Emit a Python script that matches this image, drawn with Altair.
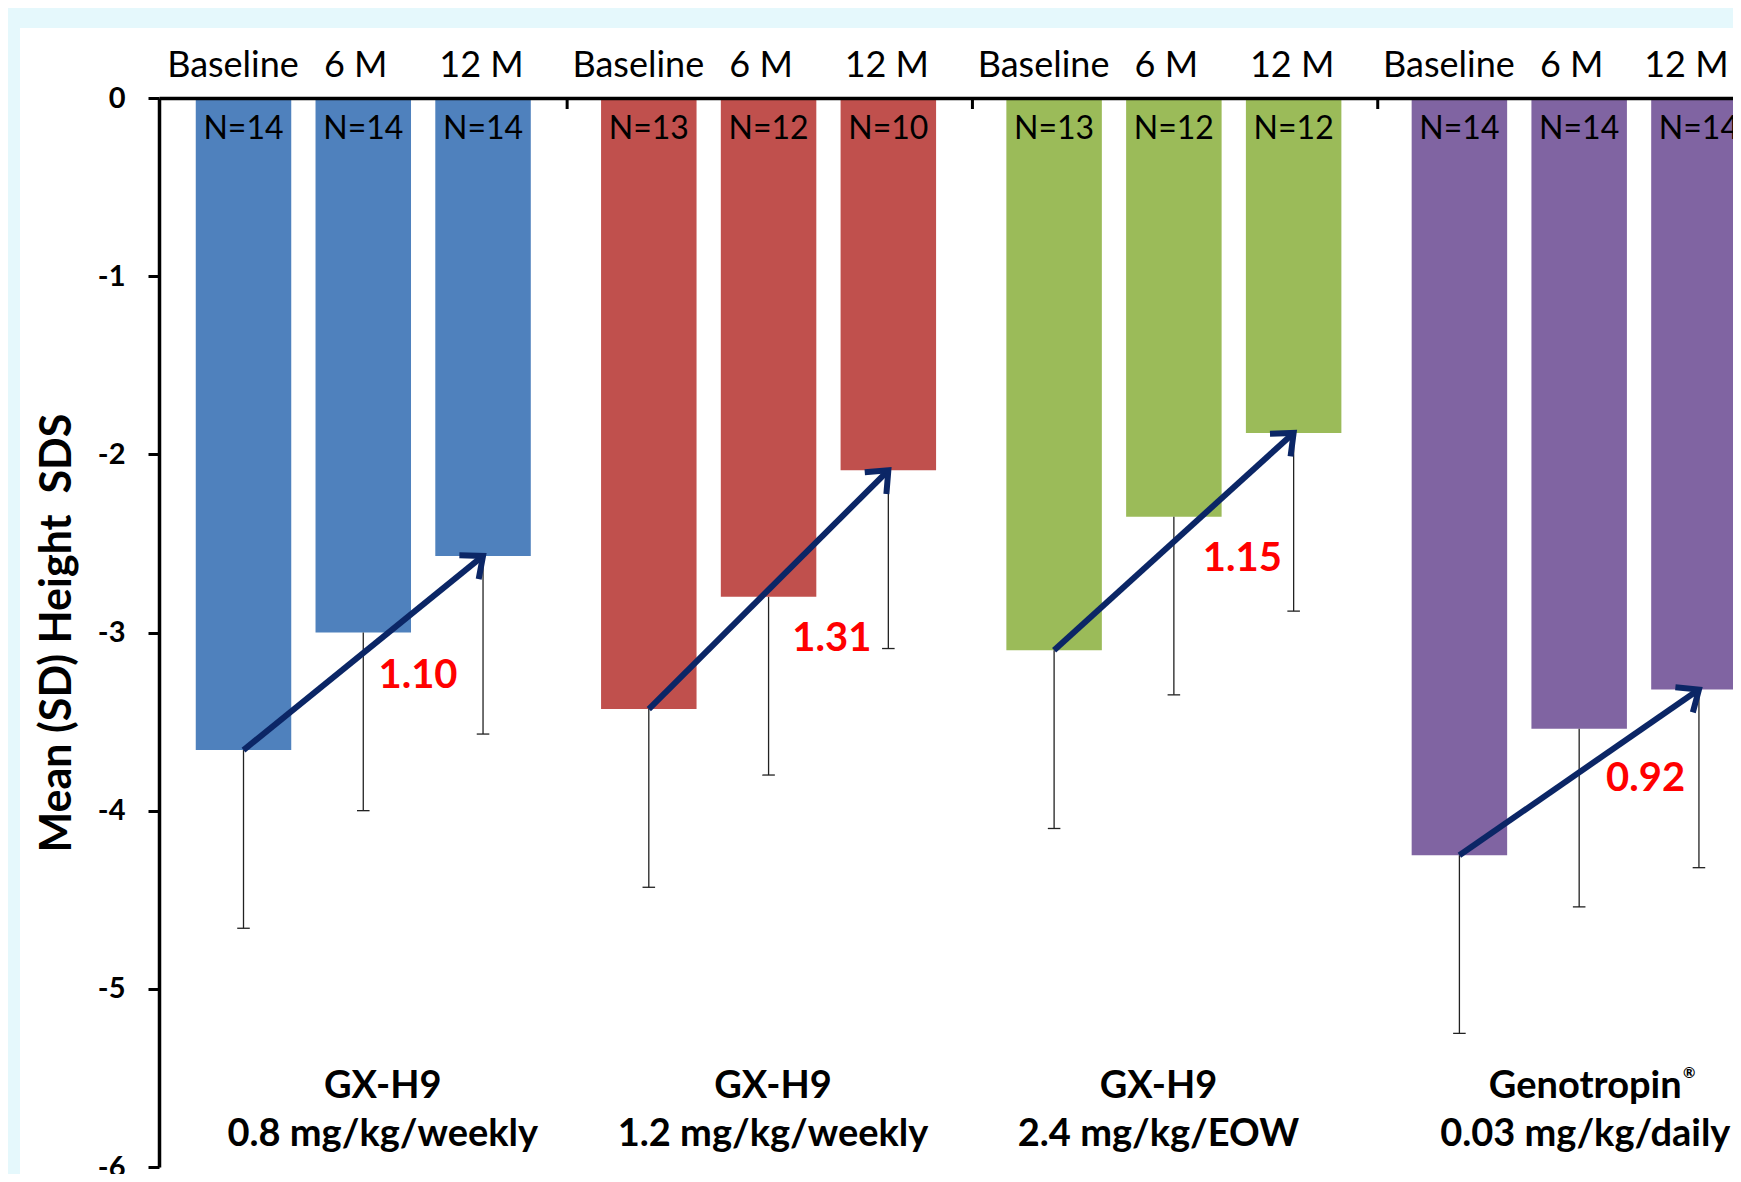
import math
import altair as alt
import pandas as pd

# ---------------- data ----------------
time_points = ["Baseline", "6 M", "12 M"]
group_line1 = ["GX-H9", "GX-H9", "GX-H9", "Genotropin"]
group_line2 = ["0.8 mg/kg/weekly", "1.2 mg/kg/weekly", "2.4 mg/kg/EOW", "0.03 mg/kg/daily"]

mean_g1 = [-3.66, -3.00, -2.57]
mean_g2 = [-3.43, -2.80, -2.09]
mean_g3 = [-3.10, -2.35, -1.88]
mean_g4 = [-4.25, -3.54, -3.32]

sd_g1 = [1.00, 1.00, 1.00]
sd_g2 = [1.00, 1.00, 1.00]
sd_g3 = [1.00, 1.00, 1.00]
sd_g4 = [1.00, 1.00, 1.00]

n_g1 = [14, 14, 14]
n_g2 = [13, 12, 10]
n_g3 = [13, 12, 12]
n_g4 = [14, 14, 14]

gain_text = ["1.10", "1.31", "1.15", "0.92"]
gain_x = [0.632, 1.653, 2.666, 3.661]      # annotation anchor (group units)
gain_y = [-3.245, -3.035, -2.585, -3.825]  # annotation anchor (SDS units)

group_label_x = [0.545, 1.508, 2.459, 3.512]  # annotation anchor (group units)
label_line1_y = -5.55
label_line2_y = -5.82

group_colors = ["#4F81BD", "#C0504D", "#9BBB59", "#8064A2"]

# ---------------- layout / style ----------------
PLOT_W = 1574
PLOT_H = 1069
GROUP_PX = 405.3
X_MIN = -0.007
X_MAX = X_MIN + PLOT_W / GROUP_PX
Y_PX = PLOT_H / 6.0
BAR_STEP = 0.2955
BAR_HALF = 0.1178
CAP_HALF = 0.0155
ARROW = "#0B2666"
BG = "#E5F8FC"
FONT = "Lato"

means = [mean_g1, mean_g2, mean_g3, mean_g4]
sds = [sd_g1, sd_g2, sd_g3, sd_g4]
ns = [n_g1, n_g2, n_g3, n_g4]
group_ids = [f"{a} {b}" for a, b in zip(group_line1, group_line2)]

rows = []
for g in range(4):
    for b, tp in enumerate(time_points):
        xc = g + 0.497 + (b - 1) * BAR_STEP
        m = means[g][b]
        s = sds[g][b]
        rows.append(dict(group=group_ids[g], time=tp, xc=xc,
                         x0=xc - BAR_HALF, x1=xc + BAR_HALF,
                         c0=xc - CAP_HALF, c1=xc + CAP_HALF,
                         mean=m, low=m - s, zero=0.0,
                         nlab=f"N={ns[g][b]}"))
df = pd.DataFrame(rows)

arrow_df = df[df["time"].isin(["Baseline", "12 M"])].copy()

head_rows = []
for g in range(4):
    s = df[(df.group == group_ids[g]) & (df.time == "Baseline")].iloc[0]
    e = df[(df.group == group_ids[g]) & (df.time == "12 M")].iloc[0]
    dx = (e.xc - s.xc) * GROUP_PX
    dy = (e["mean"] - s["mean"]) * Y_PX
    ang = (360 - math.degrees(math.atan2(dy, dx))) % 360
    head_rows.append(dict(xc=e.xc, mean=e["mean"], angle=ang))
head_df = pd.DataFrame(head_rows)

gain_df = pd.DataFrame(dict(x=gain_x, y=gain_y, t=gain_text))
lab_df = pd.DataFrame(dict(x=group_label_x,
                           l1=group_line1, l2=group_line2,
                           y1=[label_line1_y] * 4, y2=[label_line2_y] * 4))
reg_df = pd.DataFrame(dict(x=[group_label_x[3]], y=[label_line1_y], t=["®"]))
bound_df = pd.DataFrame(dict(b=[float(i) for i in range(1, 4)]))
panel_df = pd.DataFrame(dict(k=[0]))

centers = [r["xc"] for r in rows]
labels_js = "[" + ",".join(f"'{t}'" for t in time_points) + "]"
idx_expr = f"round((datum.value - floor(datum.value) - 0.2015) / {BAR_STEP})"
x_label_expr = f"{labels_js}[{idx_expr}]"

x_scale = alt.Scale(domain=[X_MIN, X_MAX], nice=False, zero=False)
y_scale = alt.Scale(domain=[-6, 0], nice=False)

x_axis = alt.Axis(orient="top", values=centers, labelExpr=x_label_expr,
                  labelFont=FONT, labelFontSize=36, labelColor="black",
                  labelPadding=22, labelBaseline="alphabetic",
                  labelOffset={"condition": [{"test": f"{idx_expr} == 0", "value": -11},
                                             {"test": f"{idx_expr} == 1", "value": -8},
                                             {"test": "datum.value > 3.7", "value": -13}],
                               "value": -2},
                  ticks=False, tickSize=0, domainColor="black", domainWidth=3.5,
                  grid=False, title=None, labelFlush=False, labelOverlap=False,
                  zindex=1)
y_axis = alt.Axis(values=[0, -1, -2, -3, -4, -5, -6],
                  labelExpr="datum.value == 0 ? '0' : '-' + abs(datum.value)",
                  labelFont=FONT, labelFontWeight="bold", labelFontSize=29,
                  labelColor="black", labelPadding=23,
                  tickSize=11, tickWidth=3, tickColor="black",
                  domainColor="black", domainWidth=3.5, grid=False,
                  title="Mean (SD) Height\u00a0 SDS", titleFont=FONT,
                  titleFontSize=43, titleFontWeight="bold", titleColor="black",
                  titleAngle=270, titleX=-89, titleY=PLOT_H / 2,
                  titleAlign="center", titleBaseline="alphabetic", zindex=1)


def X(f):
    return alt.X(f, type="quantitative", scale=x_scale, axis=x_axis)


def Y(f):
    return alt.Y(f, type="quantitative", scale=y_scale, axis=y_axis)


panel = alt.Chart(panel_df).mark_rect(color="white").encode(
    x=alt.value(-139), x2=alt.value(PLOT_W + 40),
    y=alt.value(-70), y2=alt.value(PLOT_H + 40))

bars = alt.Chart(df).mark_rect(clip=True).encode(
    x=X("x0"), x2="x1", y=Y("mean"), y2="zero",
    color=alt.Color("group:N", scale=alt.Scale(domain=group_ids, range=group_colors), legend=None))

err = alt.Chart(df).mark_rule(clip=True, color="#222222", strokeWidth=1.3).encode(
    x=X("xc"), y=Y("mean"), y2="low")

caps = alt.Chart(df).mark_rule(clip=True, color="#222222", strokeWidth=1.3).encode(
    x=X("c0"), x2="c1", y=Y("low"))

nlabels = alt.Chart(df).mark_text(clip=True, font=FONT, fontSize=32, color="black",
                                  baseline="middle", dy=31).encode(
    x=X("xc"), y=Y("zero"), text="nlab")

arrows = alt.Chart(arrow_df).mark_line(color=ARROW, strokeWidth=6, clip=True).encode(
    x=X("xc"), y=Y("mean"), detail="group:N")

heads = alt.Chart(head_df).mark_point(
    shape="M -1 -0.85 L 0 0 L -1 0.85", filled=False, stroke=ARROW, strokeWidth=6,
    size=1300, opacity=1, strokeJoin="miter", clip=True).encode(
    x=X("xc"), y=Y("mean"), angle=alt.Angle("angle:Q", scale=None))

gains = alt.Chart(gain_df).mark_text(font=FONT, fontSize=40, fontWeight="bold",
                                     color="#FF0000", baseline="middle").encode(
    x=X("x"), y=Y("y"), text="t")

bounds = alt.Chart(bound_df).mark_rule(color="black", strokeWidth=3).encode(
    x=X("b"), y=alt.value(0), y2=alt.value(11))

lab1 = alt.Chart(lab_df).mark_text(font=FONT, fontSize=38, fontWeight="bold",
                                   color="black", baseline="middle").encode(
    x=X("x"), y=Y("y1"), text="l1")
lab2 = alt.Chart(lab_df).mark_text(font=FONT, fontSize=38, fontWeight="bold",
                                   color="black", baseline="middle").encode(
    x=X("x"), y=Y("y2"), text="l2")
reg = alt.Chart(reg_df).mark_text(font=FONT, fontSize=15, fontWeight="bold",
                                  color="black", baseline="middle", dx=104, dy=-14).encode(
    x=X("x"), y=Y("y"), text="t")

chart = alt.layer(panel, bars, err, caps, nlabels, arrows, heads, gains, bounds,
                  lab1, lab2, reg).properties(
    width=PLOT_W, height=PLOT_H,
    autosize=alt.AutoSizeParams(type="none"),
    padding={"left": 151, "top": 90, "right": 0, "bottom": 7},
    background=BG,
).configure_view(stroke=None)

chart.save("out.html", embed_options={"renderer": "svg", "actions": False})
